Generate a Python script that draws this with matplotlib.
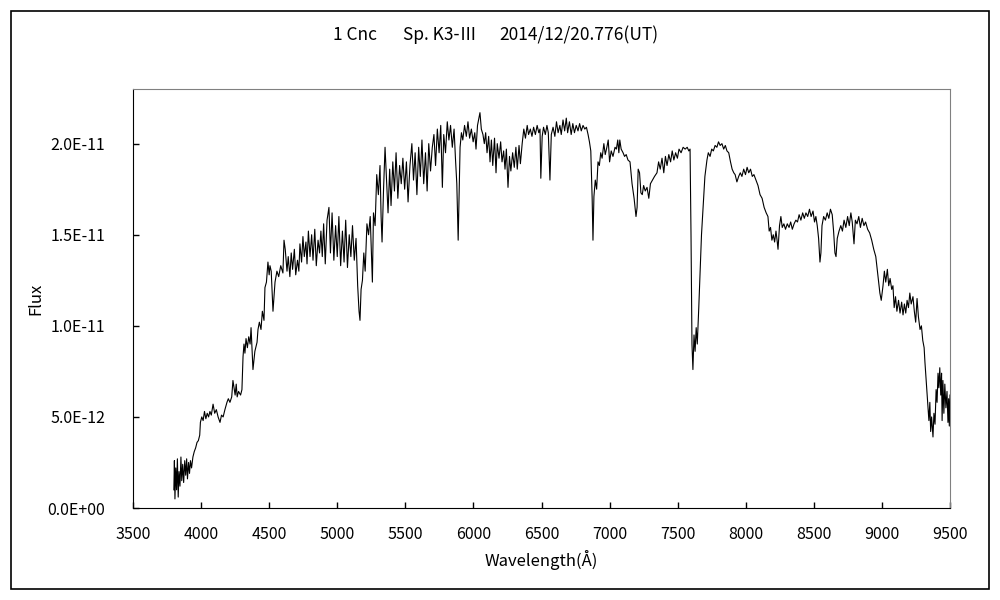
import numpy as np
import matplotlib
matplotlib.use("Agg")
from matplotlib import pyplot as plt
from matplotlib.patches import Rectangle

plt.rcParams['font.family'] = ['Noto Sans CJK JP', 'DejaVu Sans']

title_parts = ["1 Cnc", "Sp. K3-\u2162", "2014/12/20.776(UT)"]
x_label = "Wavelength(\u00c5)"
y_label = "Flux"
x_ticks = [3500, 4000, 4500, 5000, 5500, 6000, 6500, 7000, 7500, 8000, 8500, 9000, 9500]
y_ticks = [0.0, 5.0e-12, 1.0e-11, 1.5e-11, 2.0e-11]
y_ticklabels = ["0.0E+00", "5.0E-12", "1.0E-11", "1.5E-11", "2.0E-11"]

# wavelength (A) and flux (units of 1E-11)
wavelength = [
    3800, 3804, 3808, 3814, 3820, 3826, 3832, 3838, 3845, 3852,
    3858, 3865, 3872, 3880, 3887, 3894, 3900, 3908, 3915, 3922,
    3930, 3940, 3950, 3960, 3970, 3980, 3990, 3995, 4005, 4015,
    4025, 4035, 4045, 4055, 4065, 4075, 4088, 4100, 4112, 4125,
    4139, 4150, 4162, 4175, 4190, 4200, 4212, 4225, 4234, 4242,
    4250, 4258, 4265, 4275, 4290, 4300, 4308, 4315, 4322, 4330,
    4340, 4350, 4360, 4367, 4381, 4395, 4411, 4418, 4428, 4440,
    4450, 4462, 4469, 4480, 4491, 4500, 4506, 4515, 4528, 4543,
    4557, 4570, 4585, 4601, 4609, 4618, 4631, 4640, 4652, 4662,
    4672, 4685, 4695, 4708, 4718, 4726, 4738, 4748, 4758, 4770,
    4778, 4788, 4800, 4812, 4822, 4835, 4846, 4859, 4870, 4880,
    4890, 4900, 4912, 4925, 4939, 4950, 4962, 4975, 4988, 5000,
    5012, 5025, 5038, 5050, 5062, 5075, 5088, 5100, 5112, 5125,
    5138, 5150, 5160, 5167, 5175, 5185, 5195, 5205, 5218, 5230,
    5242, 5250, 5258, 5266, 5278, 5290, 5302, 5314, 5322, 5329,
    5340, 5351, 5362, 5373, 5385, 5395, 5408, 5420, 5432, 5445,
    5458, 5470, 5482, 5495, 5508, 5520, 5534, 5548, 5560, 5572,
    5585, 5598, 5610, 5622, 5635, 5648, 5660, 5672, 5685, 5698,
    5710, 5722, 5735, 5748, 5760, 5772, 5782, 5795, 5808, 5820,
    5832, 5845, 5858, 5868, 5878, 5888, 5895, 5902, 5912, 5922,
    5935, 5948, 5960, 5972, 5985, 5998, 6010, 6019, 6030, 6040,
    6048, 6058, 6070, 6080, 6090, 6100, 6112, 6122, 6132, 6142,
    6155, 6166, 6175, 6188, 6200, 6210, 6222, 6232, 6242, 6254,
    6265, 6275, 6288, 6300, 6312, 6322, 6335, 6345, 6358, 6370,
    6382, 6395, 6405, 6418, 6430, 6442, 6455, 6468, 6480, 6489,
    6495, 6505, 6515, 6528, 6540, 6550, 6562, 6572, 6585, 6598,
    6610, 6622, 6635, 6645, 6658, 6670, 6682, 6692, 6705, 6718,
    6730, 6742, 6755, 6768, 6780, 6792, 6805, 6818, 6830, 6842,
    6852, 6862, 6872, 6878, 6885, 6895, 6905, 6915, 6925, 6935,
    6945, 6958, 6968, 6980, 6990, 7000, 7012, 7025, 7040, 7050,
    7060, 7068, 7075, 7085, 7099, 7110, 7122, 7135, 7150, 7165,
    7180, 7194, 7202, 7210, 7220, 7230, 7240, 7250, 7262, 7275,
    7288, 7300, 7315, 7330, 7348, 7360, 7372, 7385, 7398, 7410,
    7422, 7435, 7448, 7460, 7472, 7485, 7498, 7510, 7525, 7540,
    7555, 7570, 7582, 7591, 7598, 7605, 7612, 7620, 7628, 7636,
    7644, 7655, 7665, 7675, 7686, 7700, 7715, 7725, 7738, 7750,
    7762, 7775, 7788, 7800, 7812, 7825, 7838, 7850, 7862, 7875,
    7888, 7900, 7912, 7922, 7935, 7948, 7960, 7972, 7985, 7998,
    8010, 8022, 8035, 8048, 8060, 8075, 8090, 8105, 8120, 8135,
    8150, 8163, 8172, 8182, 8192, 8202, 8212, 8222, 8230, 8237,
    8248, 8258, 8268, 8280, 8292, 8305, 8318, 8330, 8342, 8355,
    8368, 8380, 8392, 8405, 8418, 8430, 8442, 8455, 8468, 8480,
    8494, 8505, 8515, 8525, 8535, 8545, 8552, 8560, 8572, 8585,
    8598, 8610, 8622, 8635, 8645, 8655, 8663, 8672, 8685, 8698,
    8710, 8722, 8735, 8748, 8760, 8772, 8782, 8795, 8805, 8817,
    8830, 8842, 8855, 8868, 8880, 8895, 8910, 8925, 8940, 8955,
    8964, 8975, 8985, 8995, 9008, 9018, 9028, 9040, 9050, 9060,
    9072, 9081, 9090, 9100, 9110, 9122, 9133, 9145, 9155, 9165,
    9175, 9185, 9195, 9205, 9215, 9228, 9238, 9248, 9258, 9268,
    9280, 9290, 9300, 9310, 9316, 9325, 9332, 9338, 9345, 9352,
    9358, 9365, 9375, 9382, 9390, 9398, 9405, 9412, 9418, 9425,
    9432, 9438, 9442, 9448, 9455, 9462, 9470, 9478, 9485, 9490,
    9495, 9500,
]
flux_e11 = [
    0.10, 0.26, 0.05, 0.22, 0.10, 0.27, 0.06, 0.20, 0.12, 0.28,
    0.15, 0.24, 0.14, 0.26, 0.18, 0.27, 0.16, 0.25, 0.19, 0.26,
    0.22, 0.28, 0.31, 0.33, 0.36, 0.37, 0.40, 0.47, 0.50, 0.48,
    0.53, 0.49, 0.52, 0.50, 0.53, 0.51, 0.57, 0.52, 0.54, 0.50,
    0.47, 0.51, 0.50, 0.54, 0.58, 0.60, 0.58, 0.61, 0.70, 0.66,
    0.62, 0.68, 0.61, 0.64, 0.62, 0.65, 0.83, 0.90, 0.85, 0.93,
    0.88, 0.94, 0.90, 0.99, 0.76, 0.86, 0.91, 0.98, 1.02, 0.98,
    1.08, 1.03, 1.21, 1.24, 1.35, 1.28, 1.33, 1.30, 1.08, 1.24,
    1.30, 1.27, 1.33, 1.29, 1.47, 1.42, 1.30, 1.38, 1.27, 1.40,
    1.31, 1.42, 1.28, 1.36, 1.30, 1.45, 1.35, 1.49, 1.38, 1.46,
    1.34, 1.52, 1.38, 1.50, 1.36, 1.53, 1.33, 1.47, 1.40, 1.52,
    1.38, 1.56, 1.34, 1.58, 1.65, 1.40, 1.62, 1.36, 1.55, 1.38,
    1.60, 1.33, 1.52, 1.35, 1.58, 1.32, 1.50, 1.38, 1.55, 1.36,
    1.48, 1.22, 1.08, 1.03, 1.20, 1.25, 1.40, 1.30, 1.56, 1.50,
    1.60, 1.42, 1.24, 1.62, 1.55, 1.83, 1.72, 1.88, 1.60, 1.46,
    1.75, 1.98, 1.80, 1.62, 1.86, 1.66, 1.90, 1.74, 1.95, 1.70,
    1.88, 1.78, 1.92, 1.75, 1.90, 1.68, 1.88, 2.00, 1.80, 1.95,
    1.72, 1.98, 1.82, 2.02, 1.78, 1.95, 1.74, 2.00, 1.85, 1.98,
    2.05, 1.88, 2.08, 1.95, 2.10, 1.76, 2.05, 1.95, 2.12, 2.02,
    2.10, 1.98, 2.08, 1.92, 1.78, 1.47, 1.72, 1.98, 2.06, 2.02,
    2.10, 2.04, 2.12, 2.03, 2.08, 2.01, 2.06, 1.97, 2.10, 2.14,
    2.17, 2.08, 2.05, 2.00, 2.06, 1.95, 2.04, 1.90, 2.02, 1.88,
    2.03, 1.84, 2.00, 1.92, 2.01, 1.90, 1.96, 1.86, 1.97, 1.76,
    1.93, 1.85, 1.95, 1.87, 1.98, 1.86, 1.99, 1.89, 2.00, 2.08,
    2.03, 2.10, 2.05, 2.08, 2.04, 2.09, 2.05, 2.10, 2.06, 2.08,
    1.81, 2.04, 2.09, 2.05, 2.10, 2.06, 1.80, 2.05, 2.09, 2.04,
    2.12, 2.06, 2.10, 2.05, 2.13, 2.07, 2.14, 2.06, 2.12, 2.05,
    2.11, 2.06, 2.10, 2.07, 2.11, 2.07, 2.10, 2.08, 2.09, 2.05,
    2.01, 1.96, 1.70, 1.47, 1.71, 1.80, 1.75, 1.90, 1.88, 1.95,
    1.92, 2.00, 1.94, 1.98, 2.02, 1.90, 1.96, 1.93, 1.98, 1.97,
    2.02, 1.95, 2.02, 1.97, 1.95, 1.93, 1.94, 1.91, 1.90, 1.78,
    1.70, 1.60, 1.65, 1.86, 1.84, 1.73, 1.72, 1.77, 1.74, 1.76,
    1.70, 1.78, 1.80, 1.82, 1.84, 1.90, 1.86, 1.92, 1.84, 1.93,
    1.88, 1.94, 1.90, 1.96, 1.91, 1.95, 1.92, 1.97, 1.95, 1.98,
    1.97, 1.98, 1.96, 1.97, 1.50, 0.90, 0.76, 0.95, 0.86, 0.99,
    0.90, 1.10, 1.30, 1.50, 1.64, 1.82, 1.91, 1.95, 1.93, 1.97,
    1.96, 1.99, 1.98, 2.01, 1.99, 2.00, 1.97, 1.99, 1.96, 1.95,
    1.90, 1.86, 1.84, 1.83, 1.79, 1.82, 1.84, 1.82, 1.86, 1.83,
    1.87, 1.84, 1.86, 1.82, 1.83, 1.80, 1.77, 1.72, 1.70, 1.65,
    1.62, 1.60, 1.52, 1.54, 1.47, 1.50, 1.46, 1.52, 1.47, 1.42,
    1.55, 1.60, 1.54, 1.56, 1.53, 1.56, 1.54, 1.57, 1.53, 1.56,
    1.58, 1.57, 1.61, 1.58, 1.62, 1.59, 1.62, 1.60, 1.64, 1.60,
    1.63, 1.57, 1.60, 1.55, 1.48, 1.35, 1.40, 1.55, 1.60, 1.58,
    1.62, 1.59, 1.64, 1.61, 1.52, 1.40, 1.38, 1.48, 1.52, 1.55,
    1.52, 1.58, 1.54, 1.60, 1.55, 1.62, 1.57, 1.45, 1.58, 1.56,
    1.60, 1.54, 1.59, 1.55, 1.57, 1.53, 1.51, 1.47, 1.42, 1.38,
    1.32, 1.25, 1.18, 1.14, 1.22, 1.30, 1.24, 1.31, 1.22, 1.26,
    1.20, 1.22, 1.10, 1.16, 1.08, 1.14, 1.07, 1.13, 1.06, 1.12,
    1.07, 1.14, 1.10, 1.18, 1.12, 1.16, 1.08, 1.02, 1.15, 1.05,
    0.98, 1.00, 0.92, 0.88, 0.80, 0.70, 0.62, 0.55, 0.48, 0.58,
    0.42, 0.50, 0.39, 0.52, 0.46, 0.65, 0.58, 0.74, 0.66, 0.77,
    0.62, 0.74, 0.48, 0.70, 0.52, 0.68, 0.55, 0.64, 0.47, 0.60,
    0.45, 0.62,
]

flux = np.array(flux_e11) * 1e-11

fig = plt.figure(figsize=(10, 6), dpi=100)
ax = fig.add_axes([0.133, 0.1533, 0.817, 0.6984])

ax.plot(wavelength, flux, color='black', linewidth=0.8)

ax.set_xlim(3500, 9500)
ax.set_ylim(0, 2.3e-11)
ax.set_xticks(x_ticks)
ax.set_xticklabels([str(t) for t in x_ticks])
ax.set_yticks(y_ticks)
ax.set_yticklabels(y_ticklabels)
ax.tick_params(direction='in', length=4, width=1, labelsize=11.5)
ax.tick_params(axis='x', pad=13)
ax.tick_params(axis='y', pad=20)

# frame: black left/bottom, gray top/right
ax.spines['left'].set_color('black')
ax.spines['bottom'].set_color('black')
ax.spines['top'].set_color('#808080')
ax.spines['right'].set_color('#808080')

ax.set_xlabel(x_label, fontsize=12, labelpad=5)
ax.set_ylabel(y_label, fontsize=12, labelpad=2)

# title in three spaced pieces
title_x = [0.333, 0.403, 0.499]
for tx, part in zip(title_x, title_parts):
    fig.text(tx, 0.941, part, ha='left', va='center', fontsize=12.5)

# outer border round the whole picture
fig.patches.append(Rectangle((0.0105, 0.018), 0.978, 0.964, transform=fig.transFigure,
                             fill=False, edgecolor='black', linewidth=1.2))

fig.savefig('out.png', dpi=100)
